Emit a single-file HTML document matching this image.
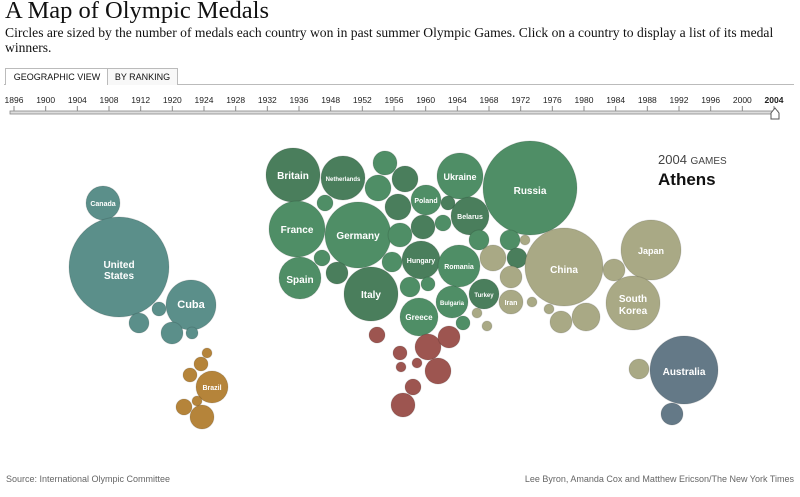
<!DOCTYPE html>
<html><head><meta charset="utf-8"><style>
body{margin:0;width:800px;height:497px;background:#fff;position:relative;overflow:hidden;font-family:"Liberation Sans",sans-serif}
.t{position:absolute;left:5px;top:-3px;font:24.5px "Liberation Serif",serif;color:#111;white-space:nowrap}
.s{position:absolute;left:5px;top:25px;width:790px;font:13.6px/15px "Liberation Serif",serif;color:#111}
.tab{position:absolute;top:68px;height:16px;border:1px solid #bbb;border-bottom:none;font-size:9px;line-height:17px;text-align:center;color:#111;background:#fff;white-space:nowrap;overflow:hidden}
.ft{position:absolute;top:474px;font-size:9px;color:#666}
</style></head><body>
<div class="t">A Map of Olympic Medals</div>
<div class="s">Circles are sized by the number of medals each country won in past summer Olympic Games. Click on a country to display a list of its medal winners.</div>
<div style="position:absolute;left:4px;top:84px;width:790px;border-top:1px solid #bbb"></div>
<div class="tab" style="left:5px;width:102px">GEOGRAPHIC VIEW</div>
<div class="tab" style="left:107px;width:69px;background:#f8f8f8">BY RANKING</div>
<svg width="800" height="497" style="position:absolute;left:0;top:0" font-family="Liberation Sans, sans-serif">
<g font-size="8.5" fill="#222" text-anchor="middle" id="yrs"></g>
<rect x="10" y="111" width="768" height="3" fill="#ddd" stroke="#888" stroke-width="0.8"/>
<path d="M771,113 L775,108 L779,113 L779,119 L771,119 Z" fill="#fff" stroke="#555"/>
<text x="658" y="164" font-size="13" fill="#444">2004 <tspan font-size="10">GAMES</tspan></text>
<text x="658" y="185" font-size="17" font-weight="bold" fill="#111">Athens</text>
<g id="c" stroke-width="1"></g>
<g fill="#fff" font-weight="bold" text-anchor="middle" font-size="10">
<text x="103" y="206" font-size="7">Canada</text>
<text x="119" y="268">United</text><text x="119" y="279">States</text>
<text x="191" y="308" font-size="11">Cuba</text>
<text x="212" y="390" font-size="7">Brazil</text>
<text x="293" y="179">Britain</text>
<text x="343" y="181" font-size="6">Netherlands</text>
<text x="297" y="233">France</text>
<text x="358" y="239">Germany</text>
<text x="300" y="283">Spain</text>
<text x="371" y="298">Italy</text>
<text x="426" y="203" font-size="7">Poland</text>
<text x="460" y="180" font-size="9">Ukraine</text>
<text x="470" y="219" font-size="7">Belarus</text>
<text x="421" y="263" font-size="7">Hungary</text>
<text x="459" y="269" font-size="7">Romania</text>
<text x="484" y="297" font-size="6">Turkey</text>
<text x="452" y="305" font-size="6">Bulgaria</text>
<text x="419" y="320" font-size="8">Greece</text>
<text x="511" y="305" font-size="7">Iran</text>
<text x="530" y="194">Russia</text>
<text x="564" y="273">China</text>
<text x="651" y="254" font-size="9">Japan</text>
<text x="633" y="302" font-size="10">South</text><text x="633" y="314" font-size="10">Korea</text>
<text x="684" y="375">Australia</text>
</g>
</svg>
<div class="ft" style="left:6px">Source: International Olympic Committee</div>
<div class="ft" style="right:6px">Lee Byron, Amanda Cox and Matthew Ericson/The New York Times</div>
<script>
var ys=[1896,1900,1904,1908,1912,1920,1924,1928,1932,1936,1948,1952,1956,1960,1964,1968,1972,1976,1980,1984,1988,1992,1996,2000,2004];
var g=document.getElementById('yrs'),h='';
ys.forEach(function(y,i){var x=14+i*(774-14)/24;h+='<text x="'+x+'" y="103"'+(y==2004?' font-weight="bold"':'')+'>'+y+'</text><line x1="'+x+'" y1="106" x2="'+x+'" y2="111" stroke="#888"/>';});
g.innerHTML=h;
var T='#5b8f8a',G='#4f8e66',D='#4a7e5c',N='#a9a985',R='#9d5550',B='#b5843a',A='#647987';
var C=[[103,203,17,T],[119,267,50,T],[191,305,25,T],[159,309,7,T],[139,323,10,T],[172,333,11,T],[192,333,6,T],
[207,353,5,B],[201,364,7,B],[190,375,7,B],[212,387,16,B],[184,407,8,B],[197,401,5,B],[202,417,12,B],
[293,175,27,D],[343,178,22,D],[385,163,12,G],[405,179,13,D],[378,188,13,G],[426,200,15,G],[460,176,23,G],[530,188,47,G],
[325,203,8,G],[297,229,28,G],[358,235,33,G],[398,207,13,D],[423,227,12,D],[443,223,8,G],[448,203,7,D],[470,216,19,D],[400,235,12,G],
[300,278,21,G],[322,258,8,G],[337,273,11,D],[371,294,27,D],[392,262,10,G],[421,260,19,D],[459,266,21,G],[410,287,10,G],[428,284,7,G],
[484,294,15,D],[452,302,16,G],[419,317,19,G],[463,323,7,G],[479,240,10,G],[510,240,10,G],[517,258,10,D],
[493,258,13,N],[511,277,11,N],[511,302,12,N],[532,302,5,N],[525,240,5,N],[477,313,5,N],[487,326,5,N],
[377,335,8,R],[428,347,13,R],[449,337,11,R],[400,353,7,R],[401,367,5,R],[417,363,5,R],[438,371,13,R],[413,387,8,R],[403,405,12,R],
[564,267,39,N],[651,250,30,N],[614,270,11,N],[633,303,27,N],[586,317,14,N],[561,322,11,N],[549,309,5,N],
[684,370,34,A],[639,369,10,N],[672,414,11,A]];
var s='';C.forEach(function(c){s+='<circle cx="'+c[0]+'" cy="'+c[1]+'" r="'+c[2]+'" fill="'+c[3]+'" stroke="rgba(0,0,0,0.12)"/>';});
document.getElementById('c').innerHTML=s;
</script>
</body></html>
